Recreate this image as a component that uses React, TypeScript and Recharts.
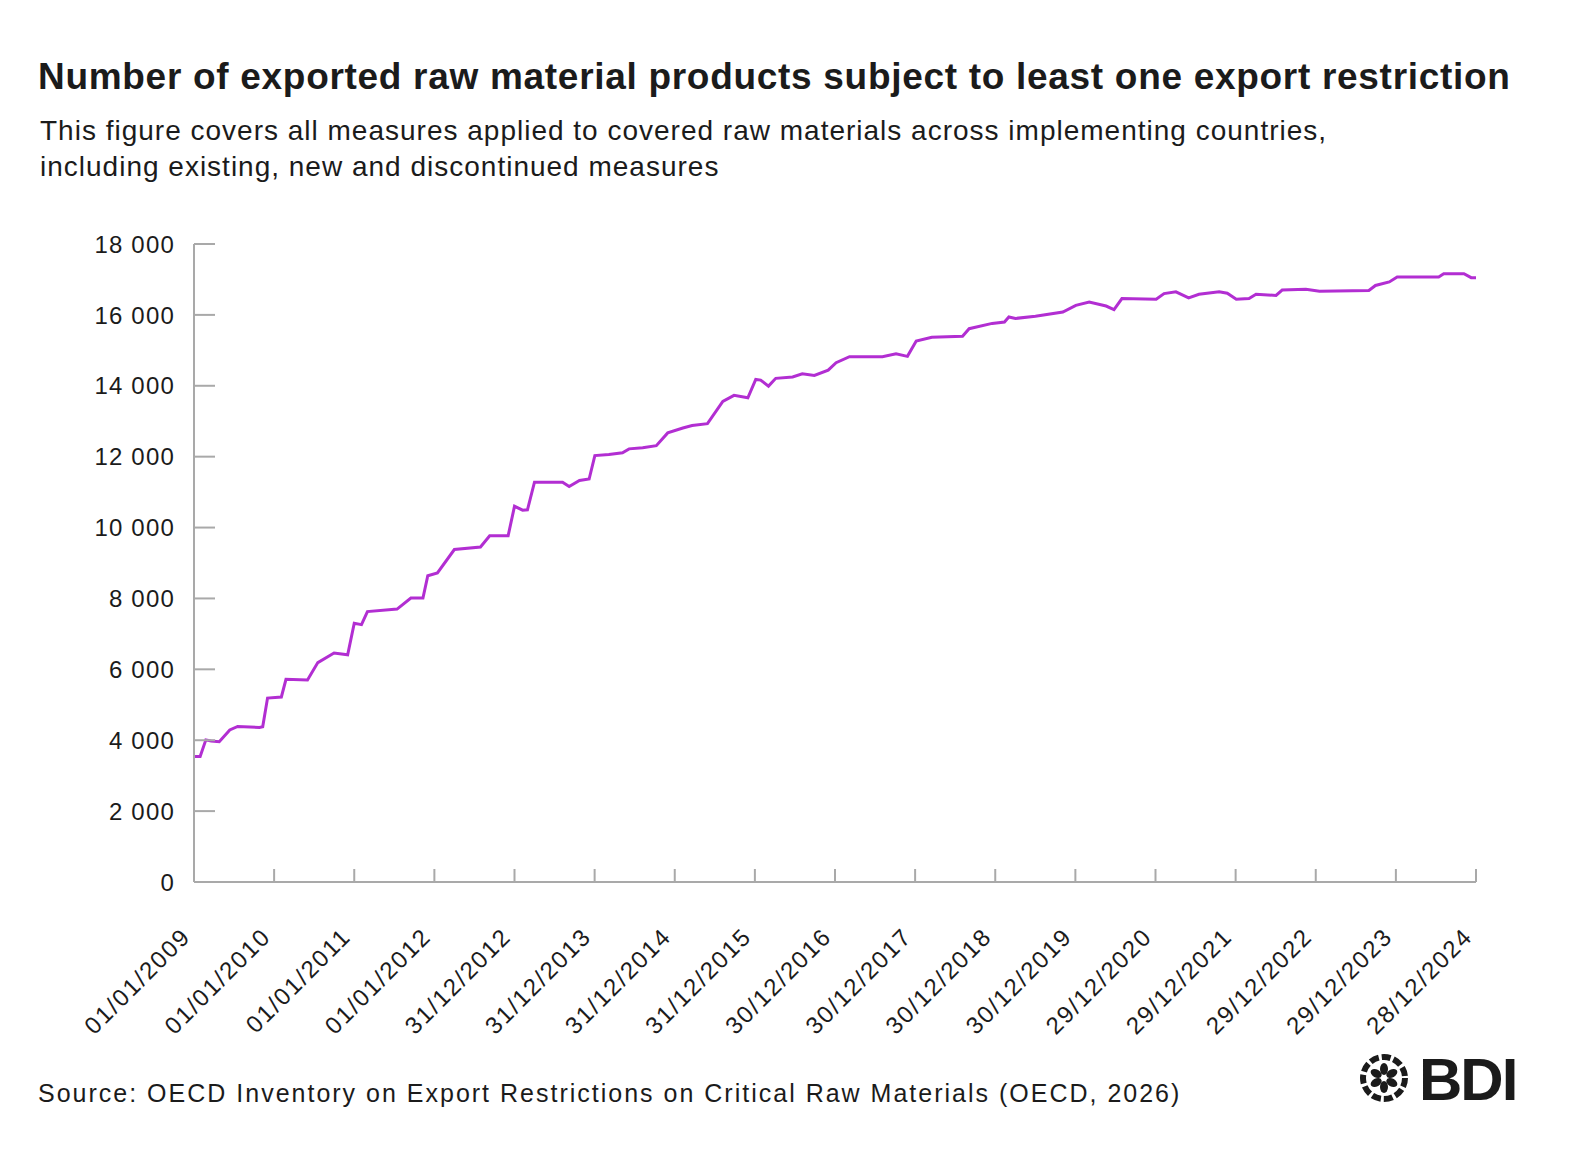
import { Line, LineChart, XAxis, YAxis } from 'recharts'

// readings of the line, dates as ISO strings, values = number of products
const dates = [
  '2009-01-01', '2009-01-29', '2009-02-24', '2009-03-20', '2009-04-26', '2009-06-13', '2009-07-19', '2009-10-26',
  '2009-11-10', '2009-12-02', '2010-02-03', '2010-02-24', '2010-06-02', '2010-07-19', '2010-10-01', '2010-12-02',
  '2011-01-01', '2011-02-03', '2011-03-02', '2011-07-15', '2011-09-16', '2011-11-10', '2011-12-02', '2012-01-15',
  '2012-04-01', '2012-07-29', '2012-09-09', '2012-12-02', '2012-12-31', '2013-02-06', '2013-02-28', '2013-04-01',
  '2013-08-07', '2013-09-06', '2013-10-23', '2013-12-06', '2014-01-01', '2014-03-06', '2014-05-07', '2014-06-06',
  '2014-08-07', '2014-10-08', '2014-11-29', '2015-02-06', '2015-03-20', '2015-05-29', '2015-08-07', '2015-09-27',
  '2015-11-29', '2016-01-04', '2016-01-26', '2016-03-02', '2016-04-04', '2016-06-20', '2016-08-03', '2016-09-27',
  '2016-11-29', '2017-01-04', '2017-03-06', '2017-08-03', '2017-10-04', '2017-11-25', '2018-01-04', '2018-03-16',
  '2018-08-03', '2018-09-02', '2018-12-16', '2019-02-10', '2019-03-02', '2019-04-01', '2019-07-01', '2019-11-03',
  '2020-01-01', '2020-03-02', '2020-05-18', '2020-06-23', '2020-07-29', '2021-01-01', '2021-02-06', '2021-04-01',
  '2021-05-29', '2021-07-15', '2021-10-15', '2021-11-21', '2022-01-01', '2022-02-28', '2022-04-01', '2022-07-01',
  '2022-07-29', '2022-11-14', '2023-01-15', '2023-08-28', '2023-09-27', '2023-11-29', '2024-01-04', '2024-07-11',
  '2024-08-03', '2024-11-03', '2024-12-06', '2024-12-28',
]

const products = [
  3540, 3540, 4010, 3980, 3960, 4290, 4390, 4360,
  4380, 5190, 5220, 5720, 5700, 6190, 6460, 6410,
  7300, 7260, 7630, 7700, 8010, 8010, 8640, 8720,
  9380, 9450, 9770, 9770, 10600, 10490, 10500, 11280,
  11280, 11160, 11330, 11370, 12030, 12060, 12110, 12220,
  12250, 12310, 12670, 12810, 12880, 12930, 13560, 13730,
  13660, 14180, 14160, 13990, 14210, 14250, 14340, 14290,
  14440, 14650, 14820, 14820, 14900, 14830, 15260, 15370,
  15400, 15610, 15760, 15800, 15940, 15900, 15960, 16080,
  16270, 16360, 16250, 16150, 16460, 16440, 16600, 16650,
  16480, 16580, 16650, 16610, 16440, 16460, 16580, 16550,
  16700, 16720, 16670, 16690, 16830, 16930, 17070, 17070,
  17160, 17160, 17050, 17050,
]

const tickLabels = [
  '01/01/2009', '01/01/2010', '01/01/2011', '01/01/2012', '31/12/2012', '31/12/2013', '31/12/2014', '31/12/2015',
  '30/12/2016', '30/12/2017', '30/12/2018', '30/12/2019', '29/12/2020', '29/12/2021', '29/12/2022', '29/12/2023',
  '28/12/2024',
]

const yTicks = [0, 2000, 4000, 6000, 8000, 10000, 12000, 14000, 16000, 18000]

const START = Date.parse('2009-01-01')
const toDay = (iso: string) => (Date.parse(iso) - START) / 86400000

const data = dates.map((d, i) => ({ day: toDay(d), value: products[i] }))
const xTicks = tickLabels.map((_, i) => i * 365)

const FONT = '"Liberation Sans", Arial, Helvetica, sans-serif'
const AXIS = '#a9a9a9'
const INK = '#1b1b1b'
const LINE = '#b22ed2'

const fmt = (v: number) => String(v).replace(/\B(?=(\d{3})+(?!\d))/g, ' ')

function YTick({ x, y, payload }: any) {
  const ax = x + 19
  return (
    <g>
      <line x1={ax} x2={ax + 21} y1={y} y2={y} stroke={AXIS} strokeWidth={2} />
      <text x={x} y={y} dy="0.36em" textAnchor="end" fontSize={24} letterSpacing={1.2} fill={INK} fontFamily={FONT}>
        {fmt(payload.value)}
      </text>
    </g>
  )
}

function XTick({ x, y, index }: any) {
  const ay = y - 56
  const tx = x - 2
  return (
    <g>
      <line x1={x} x2={x} y1={ay} y2={ay - 13} stroke={AXIS} strokeWidth={2} />
      <text
        x={tx}
        y={y}
        textAnchor="end"
        transform={`rotate(-45, ${tx}, ${y})`}
        fontSize={24}
        letterSpacing={1.8}
        fill={INK}
        fontFamily={FONT}
      >
        {tickLabels[index] ?? ''}
      </text>
    </g>
  )
}

function Logo() {
  const petals = [0, 60, 120, 180, 240, 300]
  return (
    <g>
      <g transform="translate(1384, 1078)">
        <circle r={21} fill="none" stroke={INK} strokeWidth={6} strokeDasharray="9 3" />
        {petals.map((a) => (
          <ellipse key={a} cx={0} cy={-9} rx={4} ry={6} fill={INK} transform={`rotate(${a})`} />
        ))}
        <circle r={3} fill="#fff" />
      </g>
      <text x={1419} y={1100} fontSize={60} fontWeight={900} fill={INK} fontFamily={FONT} letterSpacing={-2}>
        BDI
      </text>
    </g>
  )
}

export default function App() {
  return (
    <div style={{ position: 'absolute', left: 0, top: 0, width: 1587, height: 1156, background: '#fff' }}>
      <svg width={1587} height={1156} style={{ position: 'absolute', left: 0, top: 0 }}>
        <text x={38} y={89} fontSize={37} fontWeight={700} letterSpacing={0.7} fill={INK} fontFamily={FONT}>
          Number of exported raw material products subject to least one export restriction
        </text>
        <text x={40} y={140} fontSize={28} letterSpacing={1} fill={INK} fontFamily={FONT}>
          This figure covers all measures applied to covered raw materials across implementing countries,
        </text>
        <text x={40} y={176} fontSize={28} letterSpacing={1} fill={INK} fontFamily={FONT}>
          including existing, new and discontinued measures
        </text>
        <text x={38} y={1102} fontSize={25} letterSpacing={2} fill={INK} fontFamily={FONT}>
          Source: OECD Inventory on Export Restrictions on Critical Raw Materials (OECD, 2026)
        </text>
        <Logo />
      </svg>
      <div style={{ position: 'absolute', left: 0, top: 0 }}>
        <LineChart width={1587} height={1040} data={data} margin={{ top: 244, right: 111, bottom: 0, left: 0 }}>
          <XAxis
            dataKey="day"
            type="number"
            domain={[0, 5840]}
            ticks={xTicks}
            interval={0}
            height={158}
            tickSize={0}
            tickMargin={56}
            tickLine={false}
            axisLine={{ stroke: AXIS, strokeWidth: 2 }}
            tick={<XTick />}
          />
          <YAxis
            type="number"
            domain={[0, 18000]}
            ticks={yTicks}
            interval={0}
            width={194}
            tickSize={0}
            tickMargin={19}
            tickLine={false}
            axisLine={{ stroke: AXIS, strokeWidth: 2 }}
            tick={<YTick />}
          />
          <Line
            dataKey="value"
            type="linear"
            stroke={LINE}
            strokeWidth={3}
            dot={false}
            isAnimationActive={false}
          />
        </LineChart>
      </div>
    </div>
  )
}
